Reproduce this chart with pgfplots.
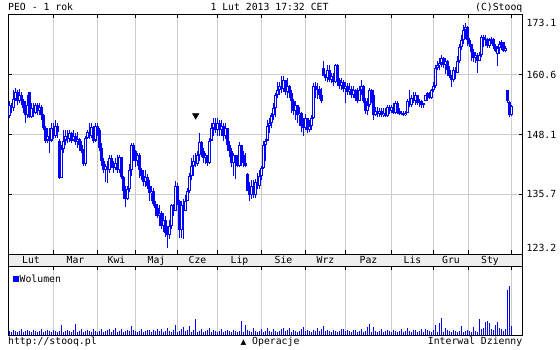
\documentclass[border=0pt]{standalone}
\usepackage{pgfplots}
\usepackage{pgfplotstable}
\pgfplotsset{compat=1.18}
\usepackage{fontspec}
\newfontfamily\mono{DejaVu Sans Mono}
\newfontfamily\sym{DejaVu Sans}
\definecolor{stblue}{HTML}{0000FF}
\definecolor{gridc}{HTML}{CCCCCC}
\definecolor{bandc}{HTML}{EEEEEE}
\newcommand\tf{\mono\fontsize{9.8}{11}\selectfont}
\pgfplotsset{candle/.style={forget plot, only marks, mark=*, mark size=0pt,
  mark options={draw=none, fill=none}}}

\pgfplotstableread{
i o h l c v
0 151.9 155.2 151.5 154.2 400
1 154.2 154.8 152.7 153.6 300
2 153.6 157.3 153.1 155.6 500
3 155.6 157.9 155.2 156.9 400
4 156.9 157.3 154.2 155.2 300
5 155.2 157.7 154.8 156.3 400
6 156.3 156.9 154.2 155.2 600
7 155.2 155.6 152.7 153.6 300
8 153.6 155.2 150.6 152.1 400
9 152.1 156.3 151.5 154.2 500
10 156.9 157.0 151.5 151.7 400
11 151.7 154.6 151.6 153.6 300
12 153.6 154.6 151.7 152.7 500
13 152.7 154.8 152.5 154.2 400
14 154.2 154.6 152.3 153.1 300
15 153.1 154.6 152.1 153.8 400
16 153.8 154.2 151.1 152.1 600
17 152.1 152.5 149.0 149.4 300
18 149.4 150.0 146.3 146.9 400
19 146.9 149.4 146.3 147.9 500
20 147.9 149.6 144.4 146.9 400
21 146.9 150.6 146.5 149.4 300
22 149.4 150.6 147.3 147.9 500
23 147.9 151.1 147.5 150.0 400
24 150.0 150.6 147.5 148.6 300
25 146.9 147.3 139.0 139.2 400
26 139.2 145.9 139.1 145.2 1000
27 145.2 149.0 144.4 146.9 300
28 146.9 149.0 145.9 147.9 400
29 147.9 149.0 146.3 147.3 500
30 147.3 149.0 146.5 148.4 400
31 148.4 148.6 146.3 146.9 300
32 146.9 149.0 146.7 147.9 500
33 147.9 148.4 145.9 146.5 1100
34 146.5 148.6 145.4 147.3 300
35 147.3 147.5 144.8 145.9 400
36 145.9 146.9 144.4 144.8 600
37 144.8 145.2 141.7 142.1 300
38 142.1 147.9 141.7 147.5 400
39 147.5 149.0 147.3 148.6 500
40 148.6 150.6 147.3 147.9 400
41 147.9 150.6 147.5 149.8 300
42 149.8 150.0 146.3 146.9 600
43 146.9 150.6 146.5 150.0 400
44 150.0 150.6 147.9 149.0 300
45 149.0 149.4 144.8 145.4 400
46 145.4 146.3 141.7 142.7 600
47 142.7 143.2 140.2 140.7 300
48 140.7 142.1 138.2 141.7 400
49 141.7 142.7 138.0 140.7 500
50 140.7 143.8 140.2 143.2 600
51 143.2 143.8 141.1 142.1 300
52 142.1 142.7 140.2 141.1 500
53 141.1 143.2 140.7 142.3 700
54 142.3 143.8 140.2 140.7 300
55 140.7 143.8 140.2 143.4 400
56 143.4 143.5 139.0 139.4 600
57 139.4 139.5 134.8 136.5 300
58 136.5 137.5 133.0 134.8 400
59 134.8 137.5 134.6 136.9 500
60 136.9 142.1 136.1 140.7 400
61 140.7 146.3 139.6 145.9 900
62 145.9 146.3 142.7 144.8 500
63 144.8 145.0 141.3 142.7 400
64 142.7 144.4 141.7 143.8 300
65 143.8 144.2 139.2 140.7 400
66 140.7 141.1 138.6 139.6 600
67 139.6 140.7 137.5 138.2 300
68 138.2 140.7 137.3 139.4 400
69 139.4 140.0 136.9 137.5 500
70 137.5 138.6 134.4 135.9 500
71 135.9 137.5 134.4 136.5 300
72 136.5 137.1 133.2 133.8 500
73 133.8 134.4 131.3 132.8 400
74 132.8 133.8 130.7 131.3 600
75 131.3 133.4 129.2 131.9 400
76 131.9 132.3 128.6 129.2 600
77 129.2 131.9 127.8 130.3 300
78 130.3 131.3 126.9 127.6 400
79 127.6 129.2 124.6 127.2 700
80 127.2 130.3 126.5 129.2 400
81 129.2 133.8 128.6 133.4 300
82 133.4 133.8 131.3 132.3 500
83 132.3 138.4 132.2 137.5 1000
84 137.5 138.0 133.4 134.4 300
85 134.4 134.6 126.7 128.2 400
86 128.2 134.4 126.7 133.4 600
87 133.4 134.8 126.5 132.3 800
88 132.3 135.5 132.2 134.4 400
89 134.4 137.1 134.3 136.5 500
90 136.5 140.2 135.9 139.6 900
91 139.6 143.2 138.6 141.7 300
92 141.7 143.8 139.6 142.7 500
93 142.7 144.2 141.3 142.1 1600
94 142.1 144.8 141.7 143.8 300
95 143.8 148.4 142.7 146.5 400
96 146.5 146.7 143.4 144.8 600
97 144.8 145.4 142.3 143.2 300
98 143.2 144.2 142.1 143.8 400
99 143.8 143.9 141.7 142.3 500
100 142.3 147.5 142.1 146.9 700
101 146.9 150.6 146.8 149.4 300
102 149.4 151.5 147.9 150.6 500
103 150.6 151.5 148.4 149.0 400
104 149.0 151.5 147.9 150.6 300
105 150.6 151.1 147.9 149.0 400
106 149.0 151.1 147.9 150.0 600
107 150.0 150.6 146.9 147.9 300
108 147.9 150.6 147.3 149.4 400
109 149.4 149.5 144.8 145.9 500
110 145.9 146.9 143.4 144.8 400
111 144.8 145.4 141.3 142.3 300
112 142.3 144.4 139.6 143.8 500
113 143.8 143.9 139.0 142.7 400
114 142.7 143.8 141.3 141.7 300
115 141.7 146.5 141.3 145.9 400
116 145.9 146.0 141.7 143.8 1400
117 143.8 144.8 141.3 142.3 300
118 142.3 144.2 141.3 141.7 1000
119 140.0 140.1 136.4 136.5 500
120 136.5 138.2 134.4 135.5 400
121 135.5 138.6 134.8 137.5 300
122 137.5 138.6 135.0 135.5 700
123 135.5 139.0 135.0 138.2 400
124 138.2 140.2 136.9 137.5 300
125 137.5 140.7 136.9 139.6 400
126 139.6 141.7 138.6 141.1 600
127 141.1 146.9 141.0 145.9 300
128 145.9 147.3 142.7 146.9 400
129 146.9 151.1 146.8 150.0 700
130 150.0 151.5 148.4 150.6 400
131 150.6 152.7 149.4 152.1 300
132 152.1 154.6 151.1 153.6 600
133 153.6 156.7 151.7 156.3 400
134 156.3 159.0 155.8 157.3 300
135 157.3 159.0 156.3 158.3 400
136 158.3 160.4 156.7 157.7 600
137 157.7 160.4 156.9 159.4 700
138 159.4 159.5 156.3 156.9 400
139 156.9 159.8 155.8 158.3 500
140 158.3 158.4 155.8 156.7 700
141 156.7 157.3 152.7 155.2 300
142 155.2 155.6 152.1 153.1 500
143 153.1 155.2 151.1 154.2 400
144 154.2 154.3 150.6 152.1 300
145 152.1 153.8 150.0 152.7 400
146 152.7 152.8 148.6 150.0 600
147 150.0 151.5 147.9 149.4 800
148 149.4 152.5 149.0 151.5 400
149 151.5 151.6 148.4 149.0 500
150 149.0 151.1 148.6 150.0 400
151 150.0 152.1 149.0 151.5 300
152 151.5 158.8 151.4 158.3 500
153 158.3 159.0 155.8 157.3 400
154 157.3 158.8 155.6 157.7 700
155 157.7 158.3 155.6 156.3 400
156 156.3 157.9 154.6 155.2 600
157 161.9 163.5 160.3 160.4 900
158 160.4 160.8 159.3 159.8 400
159 159.8 162.5 159.0 161.5 500
160 161.5 162.5 159.0 159.4 400
161 159.4 161.0 158.8 160.4 300
162 160.4 161.0 158.3 159.0 500
163 159.0 162.9 158.8 162.5 400
164 162.5 162.9 158.3 159.4 300
165 159.4 160.0 157.7 158.3 400
166 158.3 159.8 157.3 159.0 600
167 159.0 159.4 156.9 157.7 600
168 157.7 159.0 154.6 158.3 400
169 158.3 158.8 156.3 156.9 500
170 156.9 158.8 156.3 157.7 400
171 157.7 158.3 155.8 156.3 300
172 156.3 158.3 155.8 157.3 500
173 157.3 157.7 155.2 155.8 500
174 155.8 157.9 154.6 155.2 300
175 155.2 158.3 155.1 157.3 400
176 157.3 159.4 156.3 158.3 600
177 158.3 158.4 154.6 155.2 300
178 155.2 155.8 152.5 153.1 400
179 153.1 155.8 152.1 154.2 800
180 154.2 157.9 153.8 157.3 1100
181 157.3 157.7 154.6 156.3 300
182 156.3 157.3 151.1 152.1 800
183 152.1 153.8 152.0 153.1 400
184 153.1 153.8 151.7 152.5 300
185 152.5 153.6 151.7 153.1 400
186 153.1 153.6 151.7 152.1 600
187 152.1 153.6 151.7 152.7 300
188 152.7 153.6 151.7 151.9 400
189 151.9 154.2 151.7 153.8 500
190 153.8 154.2 152.5 153.1 400
191 153.1 154.2 152.7 153.8 300
192 153.8 154.6 152.5 152.7 500
193 152.7 155.2 152.5 154.6 400
194 154.6 155.2 152.5 153.1 300
195 153.1 153.6 152.1 152.5 400
196 152.5 153.1 152.1 152.7 600
197 152.7 153.1 151.9 152.1 300
198 152.1 153.1 152.0 152.7 400
199 152.7 155.6 152.6 155.2 700
200 155.2 157.3 153.8 154.2 400
201 154.2 156.3 153.8 155.8 300
202 155.8 156.9 154.6 155.2 500
203 155.2 156.9 154.2 156.3 500
204 156.3 156.4 154.2 154.8 300
205 154.8 155.6 153.8 155.2 400
206 155.2 155.3 153.6 154.2 600
207 154.2 154.8 153.6 154.6 300
208 155.2 156.4 155.1 156.3 600
209 156.3 156.9 155.2 156.7 500
210 156.7 156.9 155.6 155.8 400
211 155.8 157.7 155.6 157.3 300
212 157.3 159.0 156.9 158.3 500
213 158.3 162.5 157.9 161.9 1000
214 161.9 163.5 161.5 162.5 300
215 162.5 164.0 161.5 163.1 1200
216 163.1 164.6 162.1 164.0 1700
217 164.0 164.2 161.9 162.5 300
218 162.5 164.0 160.8 163.5 700
219 163.5 163.6 160.4 161.5 500
220 161.5 162.3 159.8 160.4 400
221 160.4 160.5 158.1 159.4 300
222 159.4 162.1 159.0 161.5 500
223 161.5 162.1 159.6 161.0 400
224 161.0 164.4 160.9 163.5 300
225 163.5 166.9 163.1 166.4 400
226 166.4 168.9 165.8 167.7 900
227 167.7 171.0 166.9 169.8 300
228 169.8 171.4 168.1 170.6 400
229 170.6 170.7 166.6 167.7 500
230 167.7 168.3 166.4 166.9 400
231 166.9 167.0 163.5 165.2 300
232 165.2 166.0 163.3 164.0 800
233 164.0 165.4 163.1 164.6 400
234 164.6 165.0 161.0 163.5 300
235 163.5 165.2 163.4 164.6 1600
236 164.6 168.9 164.2 168.5 600
237 168.5 168.9 166.4 167.7 700
238 167.7 168.9 166.6 168.1 1300
239 168.1 168.3 166.2 166.6 1400
240 166.6 168.3 166.2 167.7 1200
241 167.7 168.5 166.9 168.1 600
242 168.1 168.2 166.0 166.6 500
243 166.6 166.9 165.4 165.6 1000
244 164.8 166.6 162.3 166.2 1300
245 166.2 167.5 164.8 166.9 700
246 166.9 167.7 165.8 167.3 600
247 167.3 167.4 165.4 165.6 400
248 165.6 166.6 165.2 166.2 600
249 157.3 157.5 154.8 155.2 4500
250 155.0 155.2 151.7 152.1 4900
251 152.3 154.2 151.9 154.0 900
}\data

\begin{document}
\begin{tikzpicture}[font=\tf]
\path[use as bounding box] (0pt,0pt) rectangle (560pt,350pt);
% label band between the two panels
\fill[bandc] (8.5pt,83.5pt) rectangle (522.5pt,95.5pt);
\draw[line width=1pt] (8.5pt,83.5pt) -- (8.5pt,95.5pt) (522.5pt,83.5pt) -- (522.5pt,95.5pt);

\begin{axis}[
  scale only axis, at={(8.5pt,95.5pt)}, anchor=south west,
  width=514pt, height=240pt,
  xmin=-0.5, xmax=256.5, ymin=123.2, ymax=173.1,
  xtick={22,44,63,84,104,126,148,168,191,212,229.5,251},
  ytick={123.2,135.7,148.1,160.6,173.1},
  xticklabels={}, yticklabels={},
  grid=major, grid style={gridc, line width=1pt},
  major tick length=4pt, tick align=inside,
  major tick style={black, line width=1pt},
  axis line style={black, line width=1pt},
  clip=false,
]
% wicks
\addplot[candle,
  error bars/.cd, y dir=plus, y explicit, error mark=none,
  error bar style={draw=stblue, line width=1pt}]
  table[x=i, y=l, y error plus expr={\thisrow{h}-\thisrow{l}}] {\data};
% bodies
\addplot[candle,
  error bars/.cd, y dir=plus, y explicit, error mark=none,
  error bar style={draw=stblue, line width=3pt}]
  table[x=i, y expr={min(\thisrow{o},\thisrow{c})}, y error plus expr={abs(\thisrow{c}-\thisrow{o})}] {\data};
% hollow interiors of rising candles
\addplot[candle,
  error bars/.cd, y dir=plus, y explicit, error mark=none,
  error bar style={draw=white, line width=1pt}]
  table[x=i, y expr={\thisrow{o}+0.21}, y error plus expr={max(\thisrow{c}-\thisrow{o}-0.42,0)}] {\data};
% operation marker
\addplot[forget plot, only marks, mark=triangle*, mark size=3.7pt,
  mark options={rotate=180, fill=black, draw=black, line width=0.4pt}]
  coordinates {(93.1,152.1)};
% y tick labels
\node[anchor=west, inner sep=0pt, xshift=4pt, yshift=-8.5pt] at (axis cs:256.5,173.1) {173.1};
\node[anchor=west, inner sep=0pt, xshift=4pt] at (axis cs:256.5,160.6) {160.6};
\node[anchor=west, inner sep=0pt, xshift=4pt] at (axis cs:256.5,148.1) {148.1};
\node[anchor=west, inner sep=0pt, xshift=4pt] at (axis cs:256.5,135.7) {135.7};
\node[anchor=west, inner sep=0pt, xshift=4pt, yshift=6.5pt] at (axis cs:256.5,123.2) {123.2};
% month labels
\node[anchor=base, inner sep=0pt, yshift=-9.5pt] at (axis cs:10.75,123.2) {Lut};
\node[anchor=base, inner sep=0pt, yshift=-9.5pt] at (axis cs:33,123.2) {Mar};
\node[anchor=base, inner sep=0pt, yshift=-9.5pt] at (axis cs:53.5,123.2) {Kwi};
\node[anchor=base, inner sep=0pt, yshift=-9.5pt] at (axis cs:73.5,123.2) {Maj};
\node[anchor=base, inner sep=0pt, yshift=-9.5pt] at (axis cs:94,123.2) {Cze};
\node[anchor=base, inner sep=0pt, yshift=-9.5pt] at (axis cs:115,123.2) {Lip};
\node[anchor=base, inner sep=0pt, yshift=-9.5pt] at (axis cs:137,123.2) {Sie};
\node[anchor=base, inner sep=0pt, yshift=-9.5pt] at (axis cs:158,123.2) {Wrz};
\node[anchor=base, inner sep=0pt, yshift=-9.5pt] at (axis cs:179.5,123.2) {Paz};
\node[anchor=base, inner sep=0pt, yshift=-9.5pt] at (axis cs:201.5,123.2) {Lis};
\node[anchor=base, inner sep=0pt, yshift=-9.5pt] at (axis cs:220.75,123.2) {Gru};
\node[anchor=base, inner sep=0pt, yshift=-9.5pt] at (axis cs:240.25,123.2) {Sty};
\end{axis}

\begin{axis}[
  scale only axis, at={(8.5pt,14.5pt)}, anchor=south west,
  width=514pt, height=69pt,
  xmin=-0.5, xmax=256.5, ymin=0, ymax=6900,
  xtick={22,44,63,84,104,126,148,168,191,212,229.5,251},
  xticklabels={}, ytick=\empty,
  xmajorgrids, grid style={gridc, line width=1pt},
  xtick pos=right, major tick length=4pt, tick align=inside,
  major tick style={black, line width=1pt},
  axis line style={black, line width=1pt},
  legend style={at={(0,1)}, anchor=north west, draw=none, fill=none,
    inner sep=0pt, xshift=4pt, yshift=-7pt, font=\tf,
    nodes={inner sep=1pt}},
  legend image code/.code={\fill[stblue] (0pt,-2.5pt) rectangle (5pt,2.5pt);},
]
\addplot[ycomb, stblue, line width=1pt, mark=none] table[x=i, y=v] {\data};
\addlegendentry{Wolumen}
\end{axis}

% header and footer texts
\node[anchor=base west, inner sep=0pt] at (8pt,339.3pt) {PEO - 1 rok};
\node[anchor=base, inner sep=0pt] at (269.5pt,339.3pt) {1 Lut 2013 17:32 CET};
\node[anchor=base east, inner sep=0pt] at (522.5pt,339.3pt) {(C)Stooq};
\node[anchor=base west, inner sep=0pt] at (8pt,5pt) {http://stooq.pl};
\node[anchor=base, inner sep=0pt] at (270pt,5pt) {{\sym\fontsize{7.5}{8}\selectfont ▲}\ Operacje};
\node[anchor=base east, inner sep=0pt] at (522.5pt,5pt) {Interwal Dzienny};
\end{tikzpicture}
\end{document}
